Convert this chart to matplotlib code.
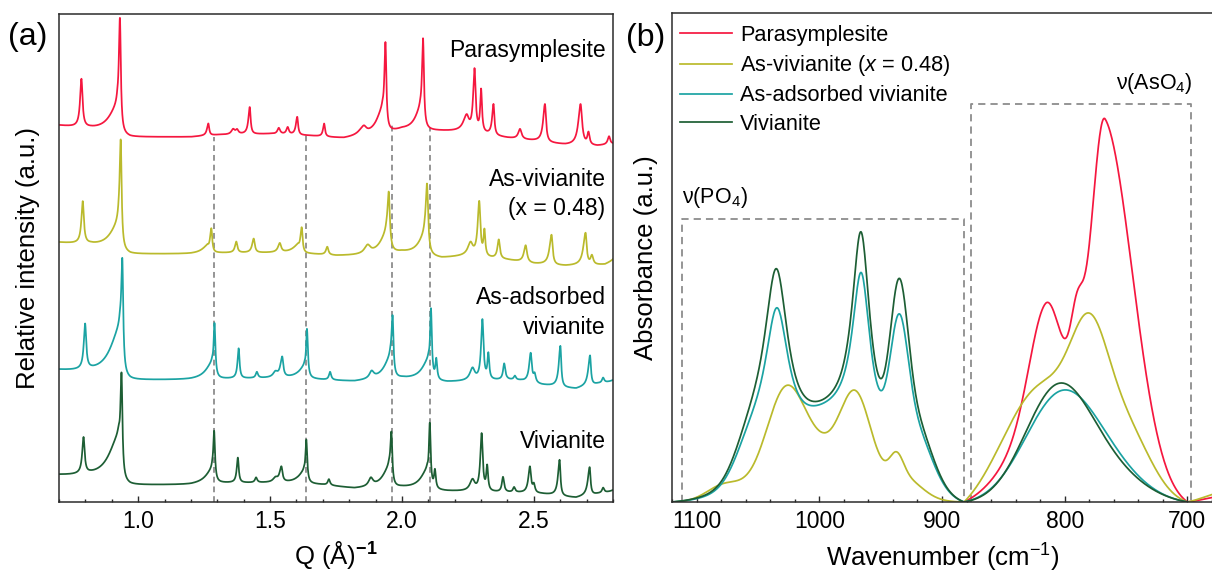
import numpy as np
import matplotlib
matplotlib.use("Agg")
import matplotlib.pyplot as plt
from matplotlib.ticker import MultipleLocator, FormatStrFormatter

plt.rcParams['font.family'] = ['Liberation Sans', 'DejaVu Sans']
plt.rcParams['mathtext.fontset'] = 'custom'
plt.rcParams['mathtext.rm'] = 'Liberation Sans'
plt.rcParams['mathtext.it'] = 'Liberation Sans:italic'
plt.rcParams['mathtext.bf'] = 'Liberation Sans:bold'

# ---------------------------------------------------------------- colours
sample_names = ["Parasymplesite", "As-vivianite ($x$ = 0.48)",
                "As-adsorbed vivianite", "Vivianite"]
sample_colors = ["#F5173F", "#BABA2C", "#1BA3A3", "#1D5E34"]

# ---------------------------------------------------------------- (a) XRD
# stacked patterns: baseline knots (Q, level) and peaks (Q, height, left HWHM, right HWHM)
para_base = [(0.70, 376), (0.82, 372), (0.97, 365), (1.20, 365), (1.30, 367),
             (1.50, 368), (1.65, 366), (1.78, 363), (1.90, 366), (2.00, 372),
             (2.15, 371), (2.25, 370), (2.40, 364), (2.50, 361), (2.62, 357),
             (2.74, 356), (2.80, 358)]
para_peaks = [(0.785, 48, 0.006, 0.005), (0.920, 24, 0.040, 0.008),
              (0.931, 109, 0.005, 0.004), (1.266, 12, 0.006, 0.004),
              (1.360, 5, 0.008, 0.008), (1.375, 4, 0.006, 0.006),
              (1.423, 27, 0.006, 0.004), (1.533, 6, 0.006, 0.006),
              (1.567, 7, 0.006, 0.005), (1.603, 18, 0.006, 0.004),
              (1.705, 13, 0.005, 0.004), (1.855, 8, 0.020, 0.012),
              (1.925, 20, 0.030, 0.008), (1.9375, 85, 0.005, 0.004),
              (2.068, 16, 0.025, 0.008), (2.080, 87, 0.005, 0.004),
              (2.245, 15, 0.015, 0.010), (2.275, 62, 0.006, 0.005),
              (2.300, 42, 0.004, 0.004), (2.347, 31, 0.006, 0.004),
              (2.4475, 10, 0.008, 0.007), (2.542, 38, 0.008, 0.005),
              (2.677, 41, 0.010, 0.007), (2.707, 12, 0.005, 0.005),
              (2.785, 8, 0.006, 0.005)]

asviv_base = [(0.70, 259), (0.82, 256), (0.97, 248), (1.20, 248), (1.30, 249),
              (1.60, 249), (1.75, 246), (1.85, 246), (2.00, 249), (2.15, 244),
              (2.25, 246), (2.40, 242), (2.50, 238), (2.62, 236), (2.77, 237),
              (2.80, 240)]
asviv_peaks = [(0.790, 42, 0.006, 0.005), (0.925, 24, 0.040, 0.008),
               (0.934, 102, 0.005, 0.004), (1.262, 6, 0.025, 0.006),
               (1.2775, 24, 0.006, 0.004), (1.372, 11, 0.006, 0.005),
               (1.438, 14, 0.007, 0.005), (1.537, 9, 0.008, 0.006),
               (1.605, 6, 0.025, 0.006), (1.620, 25, 0.006, 0.004),
               (1.717, 8, 0.006, 0.005), (1.870, 8, 0.015, 0.012),
               (1.940, 16, 0.030, 0.008), (1.950, 55, 0.006, 0.005),
               (2.085, 16, 0.030, 0.008), (2.095, 66, 0.006, 0.005),
               (2.260, 12, 0.012, 0.010), (2.293, 54, 0.007, 0.005),
               (2.3125, 25, 0.004, 0.004), (2.367, 19, 0.006, 0.005),
               (2.469, 17, 0.008, 0.006), (2.567, 30, 0.009, 0.005),
               (2.696, 32, 0.010, 0.005), (2.720, 9, 0.006, 0.006),
               (2.830, 14, 0.015, 0.015)]

asads_base = [(0.70, 131), (0.82, 128), (0.97, 122), (1.20, 122), (1.30, 123),
              (1.60, 124), (1.70, 122), (1.82, 120), (2.00, 123), (2.17, 120),
              (2.40, 122), (2.45, 121), (2.53, 117), (2.66, 113), (2.74, 118),
              (2.80, 120)]
asads_peaks = [(0.799, 45, 0.006, 0.005), (0.930, 45, 0.045, 0.008),
               (0.940, 103, 0.005, 0.004), (1.280, 14, 0.030, 0.006),
               (1.2895, 52, 0.004, 0.004), (1.381, 30, 0.005, 0.004),
               (1.450, 6, 0.005, 0.005), (1.520, 5, 0.010, 0.010),
               (1.546, 20, 0.008, 0.005), (1.630, 10, 0.025, 0.006),
               (1.640, 47, 0.004, 0.004), (1.7275, 8, 0.005, 0.005),
               (1.885, 7, 0.010, 0.010), (1.955, 18, 0.030, 0.007),
               (1.9645, 57, 0.005, 0.004), (2.100, 18, 0.030, 0.006),
               (2.110, 67, 0.004, 0.004), (2.130, 20, 0.004, 0.004),
               (2.2675, 12, 0.012, 0.010), (2.305, 60, 0.006, 0.005),
               (2.3275, 25, 0.004, 0.004), (2.3875, 16, 0.005, 0.005),
               (2.428, 4, 0.005, 0.005), (2.488, 29, 0.007, 0.005),
               (2.503, 8, 0.005, 0.005), (2.6005, 41, 0.007, 0.004),
               (2.713, 30, 0.008, 0.004), (2.7625, 5, 0.005, 0.005),
               (2.830, 14, 0.012, 0.012)]

viv_base = [(0.70, 26), (0.82, 24), (0.97, 17), (1.20, 17), (1.30, 19),
            (1.60, 19), (1.70, 17), (1.82, 13), (2.00, 14), (2.17, 11),
            (2.45, 9), (2.53, 8), (2.66, 4), (2.74, 8), (2.80, 10)]
viv_peaks = [(0.793, 36, 0.006, 0.005), (0.925, 42, 0.045, 0.008),
             (0.937, 98, 0.005, 0.004), (1.280, 12, 0.030, 0.006),
             (1.288, 48, 0.004, 0.004), (1.378, 25, 0.005, 0.004),
             (1.447, 5, 0.005, 0.005), (1.520, 4, 0.010, 0.010),
             (1.543, 15, 0.008, 0.005), (1.628, 10, 0.025, 0.006),
             (1.6375, 41, 0.004, 0.004), (1.723, 6, 0.005, 0.005),
             (1.882, 8, 0.010, 0.010), (1.950, 17, 0.030, 0.007),
             (1.960, 50, 0.005, 0.004), (2.095, 17, 0.030, 0.006),
             (2.1055, 62, 0.004, 0.004), (2.125, 18, 0.004, 0.004),
             (2.2675, 11, 0.012, 0.010), (2.302, 57, 0.006, 0.005),
             (2.323, 24, 0.004, 0.004), (2.383, 15, 0.005, 0.005),
             (2.425, 5, 0.005, 0.005), (2.485, 26, 0.007, 0.005),
             (2.500, 8, 0.005, 0.005), (2.5975, 36, 0.007, 0.004),
             (2.7115, 28, 0.008, 0.004), (2.7625, 5, 0.005, 0.005),
             (2.830, 14, 0.012, 0.012)]

# reference reflections marked across the patterns: Q position and top of the marker
marker_q = [1.288, 1.6345, 1.963, 2.107]
marker_top = [365, 367, 380, 375]

# pattern captions: text, vertical position
xrd_captions = [("Parasymplesite", 452), ("As-vivianite", 322), ("(x = 0.48)", 294),
                ("As-adsorbed", 204), ("vivianite", 175), ("Vivianite", 60)]

# ---------------------------------------------------------------- (b) IR
# absorbance bands: (shape, centre, height, width on high-wn side, width on low-wn side)
band_edges = [(1120, 882), (882, 700), (700, 640)]

para_bands = [None,
              [('g', 795, 135, 38, 38), ('g', 816, 92, 13, 10.7),
               ('g', 790, 55, 5, 5), ('g', 767, 290, 10.5, 23)],
              [('g', 660, 15, 25, 25)]]
asviv_bands = [[('g', 1028, 76, 15, 15), ('g', 970, 73, 12, 12),
                ('g', 937, 22, 5.5, 5.5), ('g', 930, 18, 14, 14),
                ('g', 1000, 55, 35, 35), ('g', 1078, 14, 14, 14)],
               [('g', 780, 100, 15, 15), ('g', 818, 130, 33, 33),
                ('g', 752, 75, 22, 22)],
               [('g', 660, 25, 25, 25)]]
asads_bands = [[('l', 1034.5, 146, 12, 12), ('l', 965.8, 157, 9, 9),
                ('g', 935, 104, 7, 7), ('g', 985, 82, 42, 42),
                ('g', 1055, 34, 13, 13), ('g', 923, 52, 14, 14)],
               [('g', 808, 70, 28, 28), ('g', 782, 55, 34, 34)],
               None]
viv_bands = [[('l', 1035, 185, 12, 12), ('l', 966, 199, 9, 9),
              ('g', 935, 132, 7, 7), ('g', 985, 80, 42, 42),
              ('g', 1055, 38, 13, 13), ('g', 923, 60, 14, 14)],
             [('g', 808, 87, 26, 26), ('g', 780, 45, 35, 35)],
             None]

# dashed regions: (high wn, low wn, top)
po4_box = (1112, 882, 283)
aso4_box = (876, 697, 398)


def xrd_trace(q, base, peaks):
    bq, bh = zip(*base)
    y = np.interp(q, bq, bh)
    for q0, amp, wl, wr in peaks:
        w = np.where(q < q0, wl, wr)
        y = y + amp / (1.0 + ((q - q0) / w) ** 2)
    return y


def band_profile(wn, comps):
    y = np.zeros_like(wn)
    for shape, c, amp, s_hi, s_lo in comps:
        s = np.where(wn > c, s_hi, s_lo)
        z = (wn - c) / s
        y = y + (amp * np.exp(-0.5 * z * z) if shape == 'g' else amp / (1.0 + z * z))
    return y


def ir_trace(wn, bands):
    y = np.full_like(wn, np.nan)
    for (hi, lo), comps in zip(band_edges, bands):
        if comps is None:
            continue
        m = (wn <= hi) & (wn >= lo)
        seg = band_profile(wn[m], comps)
        ends = band_profile(np.array([hi, lo], dtype=float), comps)
        seg = seg - (ends[1] + (ends[0] - ends[1]) * (wn[m] - lo) / (hi - lo))
        y[m] = seg
    return y


W, H = 1212, 574
fig = plt.figure(figsize=(W / 100, H / 100), dpi=100)

ax1 = fig.add_axes([59 / W, 72 / H, (613 - 59) / W, (502 - 14) / H])
ax2 = fig.add_axes([672 / W, 72 / H, (W - 672) / W + 0.002, (502 - 13) / H])

spine_col = "#2b2b2b"
for ax in (ax1, ax2):
    for s in ax.spines.values():
        s.set_linewidth(1.1)
        s.set_color(spine_col)
    ax.tick_params(axis='x', which='both', direction='in', top=False,
                   labelsize=16.5, pad=6, color=spine_col)
    ax.tick_params(axis='x', which='major', length=4.5, width=1.0)
    ax.tick_params(axis='x', which='minor', length=2.3, width=1.0)
    ax.set_yticks([])

# ---- panel (a)
q = np.linspace(0.7, 2.8, 4200)
patterns = [(para_base, para_peaks), (asviv_base, asviv_peaks),
            (asads_base, asads_peaks), (viv_base, viv_peaks)]
for (base, peaks), col in zip(patterns, sample_colors):
    ax1.plot(q, xrd_trace(q, base, peaks), color=col, lw=1.25)

for xq, top in zip(marker_q, marker_top):
    ax1.plot([xq, xq], [0, top], color="#8c8c8c", lw=1.3, ls=(0, (3.2, 2.2)),
             zorder=0.5)

for txt, yy in xrd_captions:
    ax1.text(2.772, yy, txt, ha='right', va='center', fontsize=16.5)

ax1.set_xlim(0.7, 2.8)
ax1.set_ylim(0, 488)
ax1.xaxis.set_major_locator(MultipleLocator(0.5))
ax1.xaxis.set_minor_locator(MultipleLocator(0.1))
ax1.xaxis.set_major_formatter(FormatStrFormatter('%.1f'))
ax1.set_xlabel(r"Q (Å)$^{\mathbf{-1}}$", fontsize=18.5, labelpad=4)
ax1.set_ylabel("Relative intensity (a.u.)", fontsize=18.5)
ax1.yaxis.set_label_coords((40 - 59) / 554, 0.5)

# ---- panel (b)
wn = np.arange(1120.0, 639.9, -0.5)
ir_sets = [para_bands, asviv_bands, asads_bands, viv_bands]
for bands, col, name in zip(ir_sets, sample_colors, sample_names):
    ax2.plot(wn, ir_trace(wn, bands), color=col, lw=1.25, label=name)

box_style = dict(color="#8c8c8c", lw=1.3, ls=(0, (4.0, 2.8)), zorder=0.5)
for hi, lo, top in (po4_box, aso4_box):
    ax2.plot([hi, hi, lo, lo], [0, top, top, 0], **box_style)
ax2.text(1112, 304, r"ν(PO$_4$)", ha='left', va='center', fontsize=15.5)
ax2.text(727, 419, r"ν(AsO$_4$)", ha='center', va='center', fontsize=15.5)

ax2.set_xlim(1120, 678)
ax2.set_ylim(0, 489)
ax2.spines['right'].set_visible(False)
ax2.xaxis.set_major_locator(MultipleLocator(100))
ax2.xaxis.set_minor_locator(MultipleLocator(20))
ax2.set_xlabel(r"Wavenumber (cm$^{-1}$)", fontsize=18.5, labelpad=6)
ax2.set_ylabel("Absorbance (a.u.)", fontsize=18.5)
ax2.yaxis.set_label_coords((658 - 672) / 540, 0.5)

ax2.legend(loc='upper left', bbox_to_anchor=(680 / W, 1 - 25 / H),
           bbox_transform=fig.transFigure, frameon=False, fontsize=15.7,
           borderpad=0, borderaxespad=0, handlelength=2.4,
           handletextpad=0.35, labelspacing=0.33)

fig.text(28 / W, 1 - 37 / H, "(a)", fontsize=23, ha='center', va='center')
fig.text(646 / W, 1 - 38 / H, "(b)", fontsize=23, ha='center', va='center')

fig.savefig("out.png", dpi=100)
